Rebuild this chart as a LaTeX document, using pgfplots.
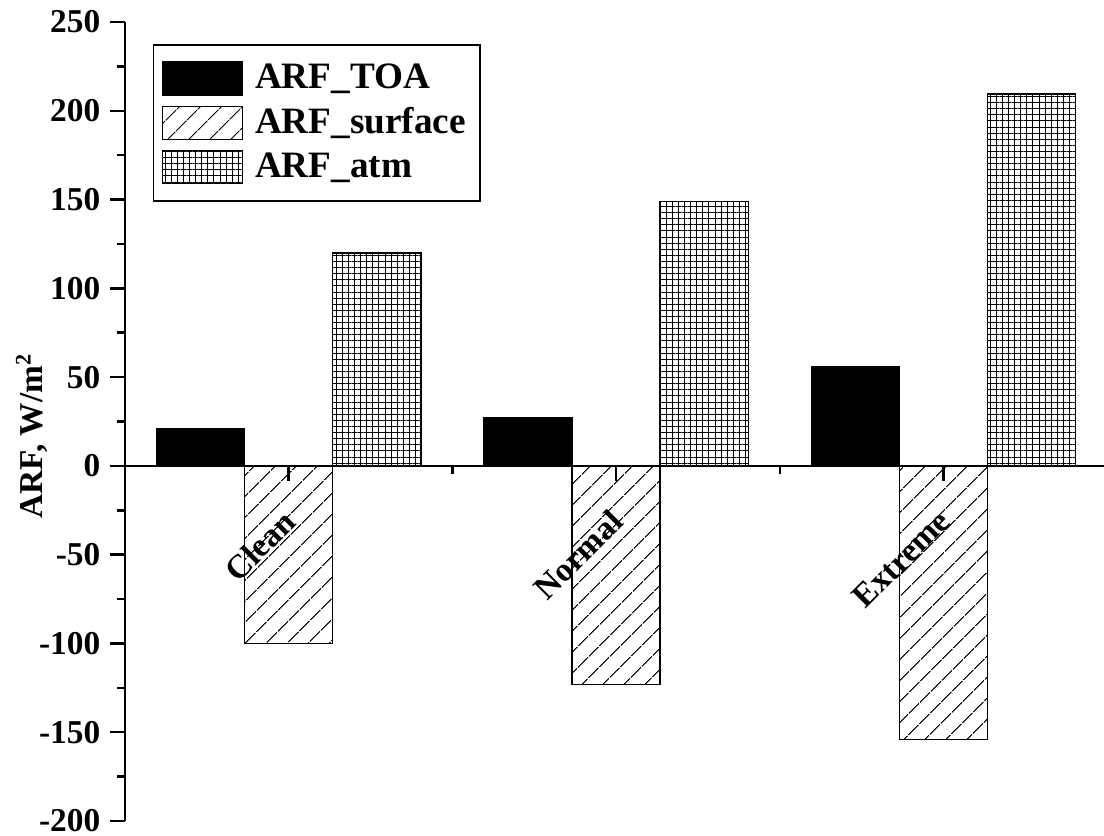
\documentclass[border=0pt]{standalone}
\usepackage{pgfplots}
\pgfplotsset{compat=1.18}
\usepackage{fontspec}
\setmainfont{Liberation Serif}
\usetikzlibrary{patterns.meta,calc}
\begin{document}
\begin{tikzpicture}
\begin{axis}[
  scale only axis,
  width=352.4pt, height=287.6pt,
  xmin=-0.5, xmax=2.49,
  ymin=-200, ymax=250,
  axis x line*=middle,
  axis y line*=left,
  axis line style={line width=0.9pt,-},
  ybar=0pt, bar width=31.7pt,
  xtick={0,1,2},
  xticklabels={Clean,Normal,Extreme},
  minor xtick={0.5,1.5},
  ytick={-200,-150,...,250},
  minor ytick={-175,-125,...,225},
  tick align=outside,
  major tick length=5.4pt,
  minor tick length=2.9pt,
  tick style={line width=0.9pt,black},
  /pgf/number format/assume math mode=true,
  yticklabel style={font=\bfseries\fontsize{12}{12}\selectfont},
  xticklabel style={font=\bfseries\fontsize{12}{12}\selectfont, rotate=45, anchor=east, xshift=-5.3pt, yshift=-9.1pt},
  ylabel={\textbf{ARF, W/m\textsuperscript{2}}},
  ylabel style={font=\bfseries\fontsize{12}{12}\selectfont, at={(axis description cs:-0.095,0.482)}, anchor=center},
  legend cell align=left,
  legend image code/.code={\draw[#1] (1.4pt,-5.95pt) rectangle (30.2pt,5.95pt); \path (32.4pt,0pt);},
  legend style={draw=black, line width=0.6pt, at={(axis description cs:0,1)}, anchor=north west, xshift=10pt, yshift=-7.9pt, font=\bfseries\fontsize{13.4}{13.4}\selectfont, inner xsep=3pt, inner ysep=5pt, row sep=1.3pt},
]
\addplot[draw=black, fill=black, line width=0.5pt] coordinates {(0,21) (1,27) (2,56)};
\addplot[draw=black, line width=0.5pt, pattern={Lines[angle=45,distance=5.4pt,line width=0.4pt]}] coordinates {(0,-100) (1,-123) (2,-154)};
\addplot[draw=black, line width=0.5pt, pattern={Hatch[angle=0,distance=2.2pt,line width=0.35pt]}] coordinates {(0,120) (1,149) (2,209.5)};
\legend{ARF\_TOA, ARF\_surface, ARF\_atm}
\end{axis}
\pgfresetboundingbox
\path ($(current axis.south west)+(-45pt,-5.4pt)$) rectangle ($(current axis.north east)+(0pt,7.92pt)$);
\end{tikzpicture}
\end{document}
